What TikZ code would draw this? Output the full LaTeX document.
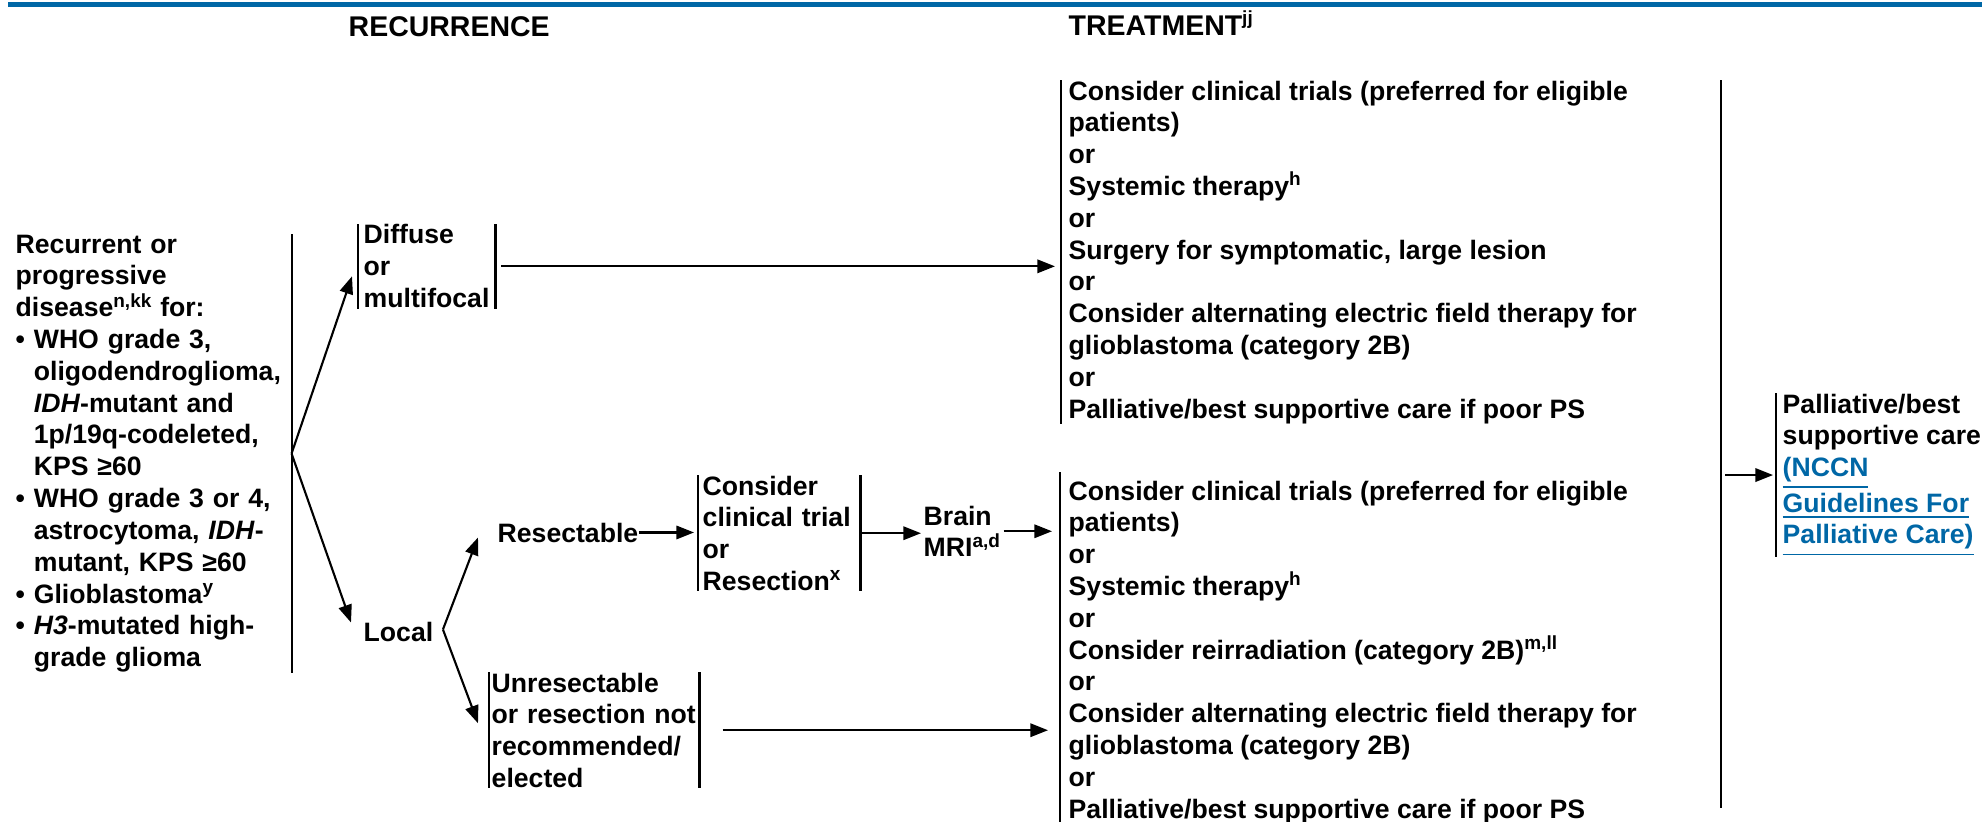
\documentclass[tikz,border=0pt]{standalone}
\usepackage{fontspec}
\setmainfont{Liberation Sans}
\usetikzlibrary{arrows.meta,positioning,calc}
\definecolor{nccnblue}{RGB}{0,103,166}
\newcommand{\bodyfont}{\fontsize{7.57pt}{9.05pt}\selectfont\bfseries}
\newcommand{\supr}[1]{\raisebox{0.36em}{\fontsize{5.4pt}{5.5pt}\selectfont #1}}
\newcommand{\hang}{\phantom{\textbullet\ }}

\begin{document}
\begin{tikzpicture}[
    x=0.01cm, y=-0.01cm,
    txt/.style={inner sep=0pt, align=left, font=\bodyfont},
    brk/.style={txt, anchor=north west, inner xsep=0.04cm},
    head/.style={inner sep=0pt, anchor=base west, font=\fontsize{8.1pt}{10pt}\selectfont\bfseries},
    arrow/.style={-{Triangle[length=5pt,width=3.8pt]}, line width=0.6pt},
    rule/.style={line width=0.6pt}
]
\useasboundingbox (0,0) rectangle (1982,821);
\fill[nccnblue] (8,1.7) rectangle (1982,6.7);
% Column heads
\node[head] (rechead) at (348,36) {RECURRENCE};
\node[head] (trthead) at (1068,35) {TREATMENT\supr{jj}};
% Recurrence
\node[txt, anchor=north west, text width=2.75cm] (recbox) at (15,234) {Recurrent or\\ progressive\\ disease\supr{n,kk} for:\\ \textbullet\ WHO grade 3,\\ \hang oligodendroglioma,\\ \hang\textit{IDH}-mutant and\\ \hang 1p/19q-codeleted,\\ \hang KPS ≥60\\ \textbullet\ WHO grade 3 or 4,\\ \hang astrocytoma, \textit{IDH}-\\ \hang mutant, KPS ≥60\\ \textbullet\ Glioblastoma\supr{y}\\ \textbullet\ \textit{H3}-mutated high-\\ \hang grade glioma};
\node[brk, inner xsep=0.05cm, text width=1.26cm] (diffuse) at (358,224) {Diffuse\\ or\\ multifocal};
\node[txt, anchor=base west] (local) at (363,641) {Local};
\node[txt, anchor=base west] (resect) at (497,542) {Resectable};
\node[brk, text width=1.53cm] (trial) at (698,475) {Consider\\ clinical trial\\ or\\ Resection\supr{x}};
\node[txt, anchor=north west] (mri) at (923,505) {Brain\\ MRI\supr{a,d}};
\node[brk, inner xsep=0.02cm, text width=2.05cm] (unresect) at (489,672) {Unresectable\\ or resection not\\ recommended/\\ elected};
% Treatment
\node[brk, inner xsep=0.07cm] (trtA) at (1061,80) {Consider clinical trials (preferred for eligible\\ patients)\\ or\\ Systemic therapy\supr{h}\\ or\\ Surgery for symptomatic, large lesion\\ or\\ Consider alternating electric field therapy for\\ glioblastoma (category 2B)\\ or\\ Palliative/best supportive care if poor PS};
\node[brk, inner xsep=0.08cm] (trtB) at (1060,480) {Consider clinical trials (preferred for eligible\\ patients)\\ or\\ Systemic therapy\supr{h}\\ or\\ Consider reirradiation (category 2B)\supr{m,ll}\\ or\\ Consider alternating electric field therapy for\\ glioblastoma (category 2B)\\ or\\ Palliative/best supportive care if poor PS};
\node[brk, inner xsep=0.06cm] (palli) at (1776,393) {Palliative/best\\ supportive care\\ \textcolor{nccnblue}{\underline{(NCCN}}\\ \textcolor{nccnblue}{\underline{Guidelines For}}\\ \textcolor{nccnblue}{\underline{Palliative Care)}}};
% Bracket rules
\draw[rule] (recbox.north east) -- (recbox.south east);
\draw[rule] (diffuse.north west) -- (diffuse.south west) (diffuse.north east) -- (diffuse.south east);
\draw[rule] (trial.north west) -- (trial.south west) (trial.north east) -- (trial.south east);
\draw[rule] (unresect.north west) -- (unresect.south west) (unresect.north east) -- (unresect.south east);
\draw[rule] (trtA.north west) -- (trtA.south west);
\draw[rule] ([yshift=0.08cm]trtB.north west) -- (trtB.south west);
\draw[rule] (palli.north west) -- (palli.south west);
\coordinate (rtop) at (1721,80);
\coordinate (rbot) at (1721,808);
\draw[rule] (rtop) -- (rbot);
\coordinate (lfork) at ($(local.east)+(9,-2)$);
% Arrows
\draw[arrow] (recbox.east) -- ($(diffuse.west)+(-6,10)$);
\draw[arrow] (recbox.east) -- ($(local.west)+(-12,-9)$);
\draw[arrow, shorten <=0.06cm, shorten >=0.06cm] (diffuse.east) -- (diffuse.east -| trtA.west);
\draw[arrow] (lfork) -- ($(resect.west)+(-19,5)$);
\draw[arrow] (lfork) -- ($(unresect.west)+(-11,-7)$);
\draw[arrow, shorten >=0.04cm] (resect.east) -- (resect.east -| trial.west);
\draw[arrow, shorten >=0.02cm] (trial.east) -- (trial.east -| mri.west);
\draw[arrow, shorten <=0.03cm, shorten >=0.08cm] (mri.east) -- (mri.east -| trtB.west);
\draw[arrow, shorten <=0.23cm, shorten >=0.12cm] (unresect.east) -- (unresect.east -| trtB.west);
\draw[arrow, shorten <=0.04cm, shorten >=0.03cm] (rtop |- palli.west) -- (palli.west);
\end{tikzpicture}
\end{document}
